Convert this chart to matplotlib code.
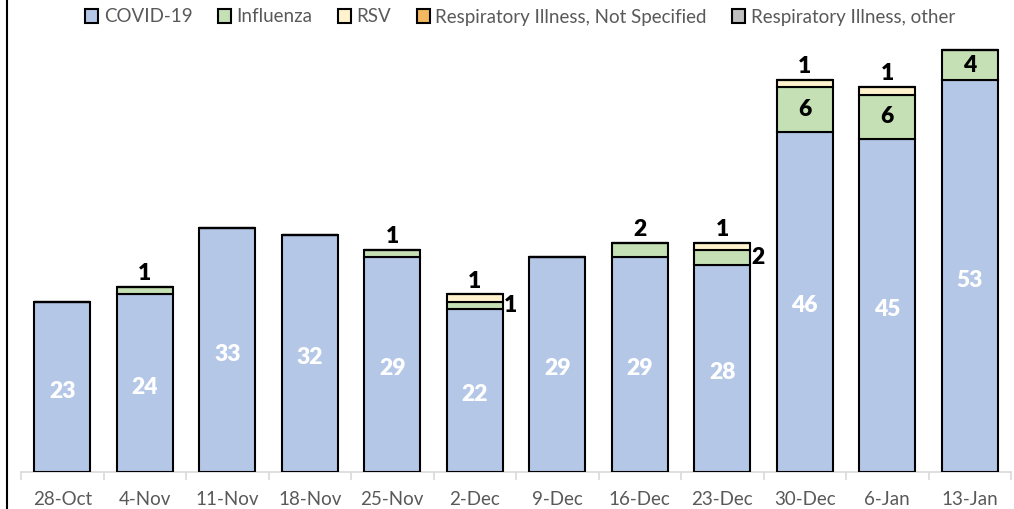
import matplotlib
matplotlib.use("Agg")
import matplotlib.pyplot as plt
import numpy as np
from matplotlib.lines import Line2D

weeks = ["28-Oct", "4-Nov", "11-Nov", "18-Nov", "25-Nov", "2-Dec", "9-Dec",
         "16-Dec", "23-Dec", "30-Dec", "6-Jan", "13-Jan"]
covid = [23, 24, 33, 32, 29, 22, 29, 29, 28, 46, 45, 53]
influenza = [0, 1, 0, 0, 1, 1, 0, 2, 2, 6, 6, 4]
rsv = [0, 0, 0, 0, 0, 1, 0, 0, 1, 1, 1, 0]
resp_not_specified = [0] * 12
resp_other = [0] * 12

series_names = ["COVID-19", "Influenza", "RSV",
                "Respiratory Illness, Not Specified", "Respiratory Illness, other"]
colors = ["#B4C7E7", "#C5E0B4", "#FFF2CC", "#F4B860", "#BFBFBF"]

# label placement style for influenza / rsv labels
flu_pos = [None, "above", None, None, "above", "right", None, "above", "right",
           "inside", "inside", "inside"]
rsv_pos = [None, None, None, None, None, "above", None, None, "above",
           "above", "above", None]

plt.rcParams['font.family'] = ['Lato', 'DejaVu Sans']

fig = plt.figure(figsize=(10.14, 5.09), dpi=100)
ax = fig.add_axes([21/1014, 37/509, 990/1014, 444/509])

x = np.arange(len(weeks))
width = 0.68
data = [covid, influenza, rsv, resp_not_specified, resp_other]
bottom = np.zeros(len(weeks))
bars = []
for name, vals, col in zip(series_names, data, colors):
    v = np.array(vals, dtype=float)
    ax.bar(x, v, width, bottom=bottom, color=col, edgecolor="black",
           linewidth=1.5, label=name, zorder=3)
    bars.append((v, bottom.copy()))
    bottom = bottom + v

LBL = dict(fontsize=16.5, fontweight="heavy")

for i, v in enumerate(covid):
    ax.annotate(str(v), (i, v / 2), xytext=(0, -3), textcoords="offset points",
                ha="center", va="center", color="white", zorder=5, **LBL)

tops = bottom
def place(i, val, seg_bottom, pos):
    if pos == "inside":
        ax.text(i, seg_bottom + val / 2, str(val), ha="center", va="center",
                color="black", zorder=5, **LBL)
    elif pos == "right":
        ax.annotate(str(val), (i + width / 2, seg_bottom + val / 2),
                    xytext=(1, 0), textcoords="offset points",
                    ha="left", va="center", **LBL)
    elif pos == "above":
        ax.annotate(str(val), (i, tops[i]), xytext=(0, 2),
                    textcoords="offset points", ha="center", va="bottom", **LBL)

fv, fb = bars[1]
rv, rb = bars[2]
for i in range(len(weeks)):
    if flu_pos[i]:
        place(i, int(fv[i]), fb[i], flu_pos[i])
    if rsv_pos[i]:
        place(i, int(rv[i]), rb[i], rsv_pos[i])

ax.set_xlim(-0.5, len(weeks) - 0.5)
ax.set_ylim(0, 60)
ax.set_yticks([])
for s in ["top", "right", "left"]:
    ax.spines[s].set_visible(False)
ax.spines["bottom"].set_color("#D9D9D9")
ax.spines["bottom"].set_linewidth(1.2)
ax.set_xticks(x)
ax.set_xticklabels(weeks, fontsize=13.5, color="#595959")
ax.tick_params(axis="x", which="major", length=0, pad=14)
ax.set_xticks(np.arange(-0.5, len(weeks)), minor=True)
ax.tick_params(axis="x", which="minor", length=6, color="#D9D9D9", width=1.2)

handles = [plt.Rectangle((0, 0), 1, 1, facecolor=c, edgecolor="black", linewidth=1.5)
           for c in colors]
leg = fig.legend(handles, series_names, loc="center", bbox_to_anchor=(520/1014, 1 - 17/509),
                 ncol=5, frameon=False, fontsize=13.5, handlelength=0.7, handleheight=0.7,
                 handletextpad=0.3, columnspacing=1.35)
for t in leg.get_texts():
    t.set_color("#595959")

fig.add_artist(Line2D([7/1014, 7/1014], [0, 1], color="black", linewidth=1.5,
                      transform=fig.transFigure))

fig.savefig("out.png", dpi=100)
